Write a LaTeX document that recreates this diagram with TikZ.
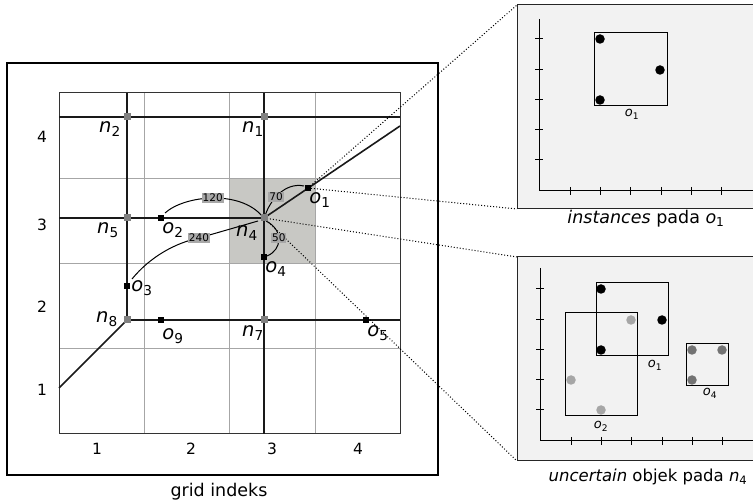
\documentclass[tikz,border=0pt]{standalone}
\usepackage{fontspec}
\setmainfont{DejaVu Sans}
\definecolor{cellshade}{RGB}{200,200,196}
\definecolor{labgray}{RGB}{168,168,168}
\definecolor{panelgray}{RGB}{242,242,242}
\newcommand\lbl[2]{\textit{#1}\textsubscript{#2}}
\begin{document}
\begin{tikzpicture}[x=1pt,y=-1pt,
  thickl/.style={line width=1.6pt,black!90},
  gridl/.style={line width=1pt,black!35},
  nodept/.style={rectangle,fill=black!50,minimum size=7pt,inner sep=0pt},
  objpt/.style={rectangle,fill=black,minimum size=6.5pt,inner sep=0pt},
  arclab/.style={fill=labgray,inner sep=1pt,font=\fontsize{10.5}{11}\selectfont},
  biglab/.style={anchor=base,inner sep=0pt,font=\fontsize{19.5}{22}\selectfont},
  axlab/.style={font=\fontsize{15.5}{18}\selectfont},
  smalllab/.style={anchor=base,inner sep=0pt,font=\fontsize{13}{15}\selectfont},
  caplab/.style={anchor=base,inner sep=0pt,font=\fontsize{17.5}{20}\selectfont},
  dotl/.style={dotted,line width=1pt},
  arcl/.style={line width=1pt},
  panel/.style={fill=panelgray},
  pdot/.style={circle,inner sep=0pt,minimum size=9.5pt}
]
\useasboundingbox (0,0) rectangle (753,502);
% outer box
\draw[line width=1.5pt] (7,63) rectangle (438,475);
% shaded cell
\fill[cellshade] (229,179) rectangle (315,264);
% grid
\foreach \x in {144,229,315} \draw[gridl] (\x,93) -- (\x,434);
\foreach \y in {179,264,349} \draw[gridl] (59,\y) -- (400,\y);
\draw[line width=1pt,black!80] (59,93) rectangle (400,434);
% coordinates
\coordinate (n2) at (127,117);
\coordinate (n1) at (264,117);
\coordinate (n5) at (127,218);
\coordinate (n4) at (264,218);
\coordinate (n8) at (127,320);
\coordinate (n7) at (264,320);
\coordinate (o1) at (308,188);
\coordinate (o2) at (161,218);
\coordinate (o3) at (127,286);
\coordinate (o4) at (264,257);
\coordinate (o9) at (161,320);
\coordinate (o5) at (366,320);
\coordinate (lt) at (59,117);
\coordinate (rt) at (400,117);
\coordinate (lm) at (59,218);
\coordinate (tv1) at (127,93);
\coordinate (tv2) at (264,93);
\coordinate (bv) at (264,434);
\coordinate (rb) at (400,320);
\coordinate (ld) at (59,388);
\coordinate (ru) at (400,126);
% thick roads
\draw[thickl] (lt) -- (rt);
\draw[thickl] (lm) -- (n4);
\draw[thickl] (n8) -- (rb);
\draw[thickl] (tv1) -- (n8);
\draw[thickl] (tv2) -- (bv);
\draw[thickl] (ld) -- (n8);
\draw[thickl] (n4) -- (ru);
% panels
\coordinate (p1tl) at (517,5);
\coordinate (p1bl) at (517,209);
\coordinate (p2tl) at (517,257);
\coordinate (p2bl) at (517,461);
\fill[panel] (p1tl) rectangle (753,209);
\draw[line width=1pt,black!85] (753,5) -- (p1tl) -- (p1bl) -- (753,209);
\fill[panel] (p2tl) rectangle (753,461);
\draw[line width=1pt,black!85] (753,257) -- (p2tl) -- (p2bl) -- (753,461);
% dotted connectors
\draw[dotl] (o1) -- (p1tl);
\draw[dotl] (o1) -- (p1bl);
\draw[dotl] (n4) -- (p2tl);
\draw[dotl] (n4) -- (p2bl);
% arcs with distances
\draw[arcl] ([shift={(4,-5)}]o2) .. controls (185,195) and (240,190) .. ([shift={(-2,-2)}]n4)
  node[arclab,pos=0.5] {120};
\draw[arcl] ([shift={(5,-7)}]o3) .. controls (150,257) and (175,243) .. (199,238) -- ([shift={(-6,3)}]n4);
\node[arclab] at (199,238) {240};
\draw[arcl] ([shift={(1,-2)}]n4) .. controls (270,200) and (285,182) .. ([shift={(-4,-2)}]o1)
  node[arclab,pos=0.42] {70};
\draw[arcl] ([shift={(2,3)}]n4) .. controls (284,230) and (282,250) .. ([shift={(3,-1)}]o4)
  node[arclab,pos=0.45] {50};
% markers
\foreach \n in {n1,n2,n4,n5,n7,n8} \node[nodept] at (\n) {};
\foreach \o in {o1,o2,o3,o4,o5,o9} \node[objpt] at (\o) {};
% labels
\node[biglab] at (110,133) {\lbl{n}{2}};
\node[biglab] at (253,133) {\lbl{n}{1}};
\node[biglab] at (108,234) {\lbl{n}{5}};
\node[biglab] at (247,237) {\lbl{n}{4}};
\node[biglab] at (173,234) {\lbl{o}{2}};
\node[biglab] at (142,292) {\lbl{o}{3}};
\node[biglab] at (276,273) {\lbl{o}{4}};
\node[biglab] at (320,204) {\lbl{o}{1}};
\node[biglab] at (107,323) {\lbl{n}{8}};
\node[biglab] at (173,340) {\lbl{o}{9}};
\node[biglab] at (253,337) {\lbl{n}{7}};
\node[biglab] at (378,337) {\lbl{o}{5}};
% axis labels
\node[axlab] at (42,137) {4};
\node[axlab] at (42,225) {3};
\node[axlab] at (42,307) {2};
\node[axlab] at (42,390) {1};
\node[axlab] at (97,449) {1};
\node[axlab] at (191,449) {2};
\node[axlab] at (272,449) {3};
\node[axlab] at (358,449) {4};
\node[caplab] at (219,497) {grid indeks};
% upper panel content
\draw[line width=1pt] (539,19) -- (539,191) -- (753,191);
\foreach \y in {39,70,100,130,160} \draw[line width=1pt] (535,\y) -- (543,\y);
\foreach \x in {570,600,630,661,691,721} \draw[line width=1pt] (\x,187) -- (\x,195);
\draw[line width=1pt] (594,33) rectangle (667,106);
\node[pdot,fill=black] at (600,39) {};
\node[pdot,fill=black] at (660,70) {};
\node[pdot,fill=black] at (600,100) {};
\node[smalllab] at (632,117) {\lbl{o}{1}};
\node[caplab] at (646,224) {\textit{instances} pada \lbl{o}{1}};
% lower panel content
\draw[line width=1pt] (540,268) -- (540,441) -- (753,441);
\foreach \y in {289,320,350,380,410} \draw[line width=1pt] (536,\y) -- (544,\y);
\foreach \x in {571,601,631,662,692,722} \draw[line width=1pt] (\x,437) -- (\x,445);
\draw[line width=1pt] (596,283) rectangle (668,356);
\draw[line width=1pt] (565,313) rectangle (637,416);
\draw[line width=1pt] (686,344) rectangle (728,386);
\node[pdot,fill=black] at (601,289) {};
\node[pdot,fill=black] at (662,320) {};
\node[pdot,fill=black] at (601,350) {};
\node[pdot,fill=black!35] at (631,320) {};
\node[pdot,fill=black!35] at (571,380) {};
\node[pdot,fill=black!35] at (601,410) {};
\node[pdot,fill=black!55] at (692,350) {};
\node[pdot,fill=black!55] at (722,350) {};
\node[pdot,fill=black!55] at (692,380) {};
\node[smalllab] at (655,368) {\lbl{o}{1}};
\node[smalllab] at (601,429) {\lbl{o}{2}};
\node[smalllab] at (710,396) {\lbl{o}{4}};
\node[caplab,font=\fontsize{16.5}{20}\selectfont] at (648,482) {\textit{uncertain} objek pada \lbl{n}{4}};
\end{tikzpicture}
\end{document}
